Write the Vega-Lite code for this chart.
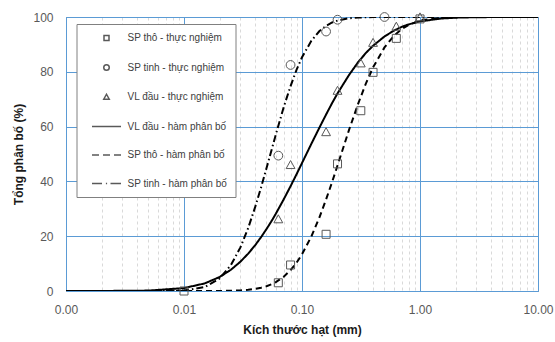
{
  "$schema": "https://vega.github.io/schema/vega-lite/v6.json",
  "width": 472,
  "height": 274,
  "autosize": {"type": "none"},
  "padding": {"left": 66, "top": 17, "right": 17, "bottom": 51},
  "background": "white",
  "config": {
    "view": {"stroke": "#808080", "strokeWidth": 1},
    "font": "Liberation Sans",
    "axis": {
      "labelFont": "Liberation Sans",
      "labelFontSize": 12,
      "labelColor": "#595959",
      "titleFont": "Liberation Sans",
      "titleFontSize": 12,
      "titleFontWeight": "bold",
      "titleColor": "#1a1a1a",
      "domain": false,
      "ticks": false,
      "tickSize": 0
    }
  },
  "datasets": {
    "pts": [
      {"x": 0.01, "y": 0, "s": "SP thô - thực nghiệm"},
      {"x": 0.063, "y": 3, "s": "SP thô - thực nghiệm"},
      {"x": 0.08, "y": 9.5, "s": "SP thô - thực nghiệm"},
      {"x": 0.16, "y": 20.7, "s": "SP thô - thực nghiệm"},
      {"x": 0.2, "y": 46.4, "s": "SP thô - thực nghiệm"},
      {"x": 0.315, "y": 65.8, "s": "SP thô - thực nghiệm"},
      {"x": 0.4, "y": 79.8, "s": "SP thô - thực nghiệm"},
      {"x": 0.63, "y": 92.2, "s": "SP thô - thực nghiệm"},
      {"x": 1.0, "y": 99.3, "s": "SP thô - thực nghiệm"},
      {"x": 0.063, "y": 49.4, "s": "SP tinh - thực nghiệm"},
      {"x": 0.08, "y": 82.5, "s": "SP tinh - thực nghiệm"},
      {"x": 0.16, "y": 94.7, "s": "SP tinh - thực nghiệm"},
      {"x": 0.2, "y": 99, "s": "SP tinh - thực nghiệm"},
      {"x": 0.5, "y": 100, "s": "SP tinh - thực nghiệm"},
      {"x": 0.063, "y": 26.2, "s": "VL đầu - thực nghiệm"},
      {"x": 0.08, "y": 46, "s": "VL đầu - thực nghiệm"},
      {"x": 0.16, "y": 58, "s": "VL đầu - thực nghiệm"},
      {"x": 0.2, "y": 73.1, "s": "VL đầu - thực nghiệm"},
      {"x": 0.315, "y": 83.1, "s": "VL đầu - thực nghiệm"},
      {"x": 0.4, "y": 90.6, "s": "VL đầu - thực nghiệm"},
      {"x": 0.63, "y": 96.5, "s": "VL đầu - thực nghiệm"},
      {"x": 1.0, "y": 99.9, "s": "VL đầu - thực nghiệm"}
    ],
    "curves": [
      {"x": 0.001, "y": 0, "s": "VL đầu - hàm phân bố"},
      {"x": 0.002, "y": 0.01, "s": "VL đầu - hàm phân bố"},
      {"x": 0.005, "y": 0.15, "s": "VL đầu - hàm phân bố"},
      {"x": 0.01, "y": 1.06, "s": "VL đầu - hàm phân bố"},
      {"x": 0.015, "y": 2.78, "s": "VL đầu - hàm phân bố"},
      {"x": 0.02, "y": 5.09, "s": "VL đầu - hàm phân bố"},
      {"x": 0.025, "y": 7.77, "s": "VL đầu - hàm phân bố"},
      {"x": 0.03, "y": 10.65, "s": "VL đầu - hàm phân bố"},
      {"x": 0.035, "y": 13.65, "s": "VL đầu - hàm phân bố"},
      {"x": 0.04, "y": 16.66, "s": "VL đầu - hàm phân bố"},
      {"x": 0.045, "y": 19.65, "s": "VL đầu - hàm phân bố"},
      {"x": 0.05, "y": 22.6, "s": "VL đầu - hàm phân bố"},
      {"x": 0.055, "y": 25.4, "s": "VL đầu - hàm phân bố"},
      {"x": 0.06, "y": 28.2, "s": "VL đầu - hàm phân bố"},
      {"x": 0.07, "y": 33.45, "s": "VL đầu - hàm phân bố"},
      {"x": 0.08, "y": 38.26, "s": "VL đầu - hàm phân bố"},
      {"x": 0.09, "y": 42.65, "s": "VL đầu - hàm phân bố"},
      {"x": 0.1, "y": 46.7, "s": "VL đầu - hàm phân bố"},
      {"x": 0.12, "y": 53.7, "s": "VL đầu - hàm phân bố"},
      {"x": 0.14, "y": 59.5, "s": "VL đầu - hàm phân bố"},
      {"x": 0.16, "y": 64.4, "s": "VL đầu - hàm phân bố"},
      {"x": 0.18, "y": 68.6, "s": "VL đầu - hàm phân bố"},
      {"x": 0.2, "y": 72.1, "s": "VL đầu - hàm phân bố"},
      {"x": 0.25, "y": 78.8, "s": "VL đầu - hàm phân bố"},
      {"x": 0.3, "y": 83.6, "s": "VL đầu - hàm phân bố"},
      {"x": 0.35, "y": 87.0, "s": "VL đầu - hàm phân bố"},
      {"x": 0.4, "y": 89.5, "s": "VL đầu - hàm phân bố"},
      {"x": 0.5, "y": 92.9, "s": "VL đầu - hàm phân bố"},
      {"x": 0.6, "y": 95.0, "s": "VL đầu - hàm phân bố"},
      {"x": 0.7, "y": 96.4, "s": "VL đầu - hàm phân bố"},
      {"x": 0.8, "y": 97.3, "s": "VL đầu - hàm phân bố"},
      {"x": 1.0, "y": 98.4, "s": "VL đầu - hàm phân bố"},
      {"x": 1.5, "y": 99.43, "s": "VL đầu - hàm phân bố"},
      {"x": 2, "y": 99.75, "s": "VL đầu - hàm phân bố"},
      {"x": 3, "y": 99.93, "s": "VL đầu - hàm phân bố"},
      {"x": 5, "y": 99.99, "s": "VL đầu - hàm phân bố"},
      {"x": 10, "y": 100, "s": "VL đầu - hàm phân bố"},
      {"x": 0.001, "y": 0, "s": "SP thô - hàm phân bố"},
      {"x": 0.01, "y": 0, "s": "SP thô - hàm phân bố"},
      {"x": 0.015, "y": 0.01, "s": "SP thô - hàm phân bố"},
      {"x": 0.02, "y": 0.03, "s": "SP thô - hàm phân bố"},
      {"x": 0.025, "y": 0.09, "s": "SP thô - hàm phân bố"},
      {"x": 0.03, "y": 0.22, "s": "SP thô - hàm phân bố"},
      {"x": 0.035, "y": 0.43, "s": "SP thô - hàm phân bố"},
      {"x": 0.04, "y": 0.74, "s": "SP thô - hàm phân bố"},
      {"x": 0.045, "y": 1.18, "s": "SP thô - hàm phân bố"},
      {"x": 0.05, "y": 1.74, "s": "SP thô - hàm phân bố"},
      {"x": 0.055, "y": 2.41, "s": "SP thô - hàm phân bố"},
      {"x": 0.06, "y": 3.23, "s": "SP thô - hàm phân bố"},
      {"x": 0.07, "y": 5.21, "s": "SP thô - hàm phân bố"},
      {"x": 0.08, "y": 7.62, "s": "SP thô - hàm phân bố"},
      {"x": 0.09, "y": 10.36, "s": "SP thô - hàm phân bố"},
      {"x": 0.1, "y": 13.39, "s": "SP thô - hàm phân bố"},
      {"x": 0.12, "y": 19.9, "s": "SP thô - hàm phân bố"},
      {"x": 0.14, "y": 26.7, "s": "SP thô - hàm phân bố"},
      {"x": 0.16, "y": 33.4, "s": "SP thô - hàm phân bố"},
      {"x": 0.18, "y": 39.8, "s": "SP thô - hàm phân bố"},
      {"x": 0.2, "y": 45.8, "s": "SP thô - hàm phân bố"},
      {"x": 0.25, "y": 58.7, "s": "SP thô - hàm phân bố"},
      {"x": 0.3, "y": 68.5, "s": "SP thô - hàm phân bố"},
      {"x": 0.35, "y": 76.0, "s": "SP thô - hàm phân bố"},
      {"x": 0.4, "y": 81.6, "s": "SP thô - hàm phân bố"},
      {"x": 0.5, "y": 88.9, "s": "SP thô - hàm phân bố"},
      {"x": 0.6, "y": 93.1, "s": "SP thô - hàm phân bố"},
      {"x": 0.7, "y": 95.6, "s": "SP thô - hàm phân bố"},
      {"x": 0.8, "y": 97.1, "s": "SP thô - hàm phân bố"},
      {"x": 1.0, "y": 98.7, "s": "SP thô - hàm phân bố"},
      {"x": 1.5, "y": 99.75, "s": "SP thô - hàm phân bố"},
      {"x": 2, "y": 99.94, "s": "SP thô - hàm phân bố"},
      {"x": 3, "y": 100, "s": "SP thô - hàm phân bố"},
      {"x": 10, "y": 100, "s": "SP thô - hàm phân bố"},
      {"x": 0.001, "y": 0, "s": "SP tinh - hàm phân bố"},
      {"x": 0.005, "y": 0, "s": "SP tinh - hàm phân bố"},
      {"x": 0.01, "y": 0.2, "s": "SP tinh - hàm phân bố"},
      {"x": 0.015, "y": 1.46, "s": "SP tinh - hàm phân bố"},
      {"x": 0.02, "y": 4.53, "s": "SP tinh - hàm phân bố"},
      {"x": 0.025, "y": 9.49, "s": "SP tinh - hàm phân bố"},
      {"x": 0.03, "y": 15.83, "s": "SP tinh - hàm phân bố"},
      {"x": 0.035, "y": 23.0, "s": "SP tinh - hàm phân bố"},
      {"x": 0.04, "y": 30.5, "s": "SP tinh - hàm phân bố"},
      {"x": 0.045, "y": 37.8, "s": "SP tinh - hàm phân bố"},
      {"x": 0.05, "y": 44.8, "s": "SP tinh - hàm phân bố"},
      {"x": 0.055, "y": 51.2, "s": "SP tinh - hàm phân bố"},
      {"x": 0.06, "y": 57.1, "s": "SP tinh - hàm phân bố"},
      {"x": 0.07, "y": 67.1, "s": "SP tinh - hàm phân bố"},
      {"x": 0.08, "y": 74.8, "s": "SP tinh - hàm phân bố"},
      {"x": 0.09, "y": 80.8, "s": "SP tinh - hàm phân bố"},
      {"x": 0.1, "y": 85.3, "s": "SP tinh - hàm phân bố"},
      {"x": 0.12, "y": 91.3, "s": "SP tinh - hàm phân bố"},
      {"x": 0.14, "y": 94.8, "s": "SP tinh - hàm phân bố"},
      {"x": 0.16, "y": 96.8, "s": "SP tinh - hàm phân bố"},
      {"x": 0.18, "y": 98.0, "s": "SP tinh - hàm phân bố"},
      {"x": 0.2, "y": 98.7, "s": "SP tinh - hàm phân bố"},
      {"x": 0.25, "y": 99.55, "s": "SP tinh - hàm phân bố"},
      {"x": 0.3, "y": 99.82, "s": "SP tinh - hàm phân bố"},
      {"x": 0.4, "y": 99.98, "s": "SP tinh - hàm phân bố"},
      {"x": 0.5, "y": 100, "s": "SP tinh - hàm phân bố"},
      {"x": 10, "y": 100, "s": "SP tinh - hàm phân bố"}
    ]
  },
  "layer": [
    {
      "data": {"name": "curves"},
      "mark": {"type": "line", "color": "black", "strokeWidth": 2, "clip": true},
      "encoding": {
        "x": {
          "field": "x",
          "type": "quantitative",
          "title": "Kích thước hạt (mm)",
          "scale": {"type": "log", "domain": [0.001, 10], "nice": false},
          "axis": {
            "values": [0.001, 0.002, 0.003, 0.004, 0.005, 0.006, 0.007, 0.008, 0.009, 0.01, 0.02, 0.03, 0.04, 0.05, 0.06, 0.07, 0.08, 0.09, 0.1, 0.2, 0.3, 0.4, 0.5, 0.6, 0.7, 0.8, 0.9, 1, 2, 3, 4, 5, 6, 7, 8, 9, 10],
            "labelExpr": "abs(log(datum.value)/LN10 - round(log(datum.value)/LN10)) < 0.001 ? format(datum.value, '.2f') : ''",
            "labelFlush": false,
            "labelOverlap": false,
            "labelPadding": 13,
            "titlePadding": 9,
            "gridColor": {"condition": {"test": "abs(log(datum.value)/LN10 - round(log(datum.value)/LN10)) < 0.001", "value": "#5B9BD5"}, "value": "#D9D9D9"},
            "gridDash": {"condition": {"test": "abs(log(datum.value)/LN10 - round(log(datum.value)/LN10)) < 0.001", "value": []}, "value": [3, 3]},
            "gridWidth": 1
          }
        },
        "y": {
          "field": "y",
          "type": "quantitative",
          "title": "Tổng phân bố (%)",
          "scale": {"domain": [0, 100], "nice": false},
          "axis": {
            "values": [0, 10, 20, 30, 40, 50, 60, 70, 80, 90, 100],
            "labelExpr": "datum.value % 20 === 0 ? datum.label : ''",
            "labelPadding": 13,
            "titlePadding": 7,
            "gridColor": {"condition": {"test": "datum.value % 20 === 0", "value": "#5B9BD5"}, "value": "#D9D9D9"},
            "gridWidth": 1
          }
        },
        "strokeDash": {
          "field": "s",
          "type": "nominal",
          "scale": {
            "domain": ["VL đầu - hàm phân bố", "SP thô - hàm phân bố", "SP tinh - hàm phân bố"],
            "range": [[1, 0], [6, 4], [7, 3, 1.5, 3]]
          },
          "legend": null
        }
      }
    },
    {
      "data": {"name": "pts"},
      "mark": {"type": "point", "filled": false, "color": "#595959", "strokeWidth": 1, "size": 256, "opacity": 1},
      "encoding": {
        "x": {"field": "x", "type": "quantitative", "title": "Kích thước hạt (mm)"},
        "y": {"field": "y", "type": "quantitative", "title": "Tổng phân bố (%)"},
        "shape": {
          "field": "s",
          "type": "nominal",
          "scale": {
            "domain": ["SP thô - thực nghiệm", "SP tinh - thực nghiệm", "VL đầu - thực nghiệm", "VL đầu - hàm phân bố", "SP thô - hàm phân bố", "SP tinh - hàm phân bố"],
            "range": [
              "M-0.5,-0.5H0.5V0.5H-0.5Z",
              "M0.55,0A0.55,0.55,0,1,1,-0.55,0A0.55,0.55,0,1,1,0.55,0Z",
              "M0,-0.55L0.55,0.45L-0.55,0.45Z",
              "M-2.9,0H2.9",
              "M-2.9,0H-1.5M-0.7,0H0.7M1.5,0H2.9",
              "M-2.9,0H-0.9M-0.12,0H0.12M0.8,0H2.9"
            ]
          },
          "legend": {
            "title": null,
            "orient": "none",
            "legendX": 10.5,
            "legendY": 7,
            "padding": 8,
            "strokeColor": "#808080",
            "fillColor": "white",
            "symbolSize": 100,
            "symbolOffset": 16,
            "labelOffset": 15,
            "rowPadding": 17.5,
            "labelFont": "Liberation Sans",
            "labelFontSize": 10,
            "labelColor": "#404040",
            "labelLimit": 200,
            "encode": {
              "symbols": {
                "update": {
                  "stroke": {"signal": "indexof(datum.value, 'hàm') >= 0 ? '#000000' : '#595959'"},
                  "strokeWidth": {"signal": "indexof(datum.value, 'hàm') >= 0 ? 2 : 1"},
                  "fill": {"value": "transparent"},
                  "opacity": {"value": 1}
                }
              }
            }
          }
        }
      }
    }
  ]
}
